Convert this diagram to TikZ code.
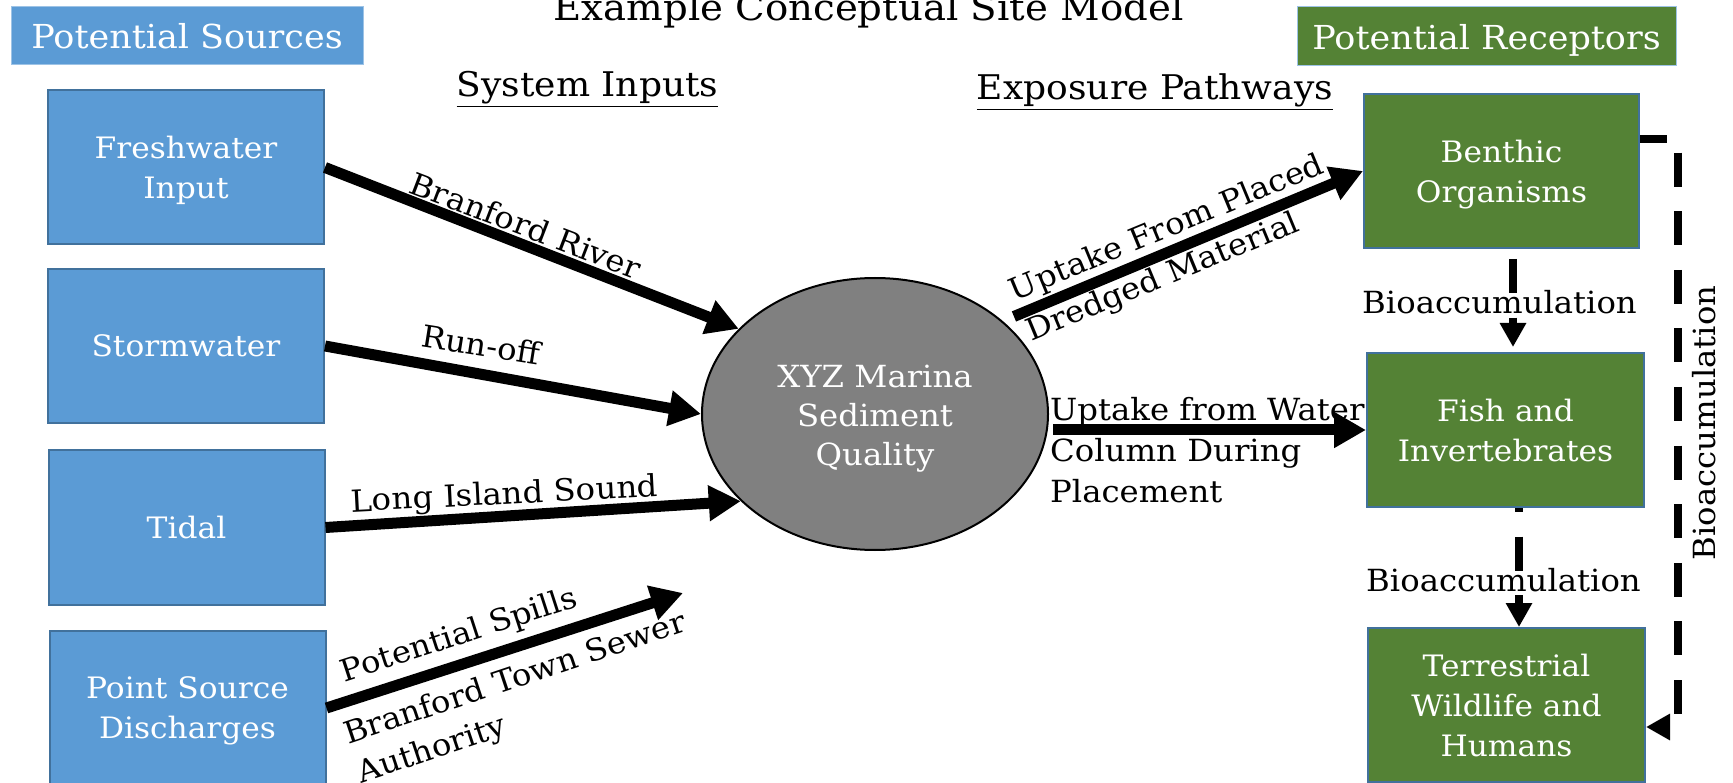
\documentclass[tikz,border=0pt]{standalone}
\usepackage{fontspec}
\setmainfont{DejaVu Serif}[FakeStretch=1.06]
\usetikzlibrary{arrows.meta,shapes.geometric}
\definecolor{srcblue}{HTML}{5B9BD5}
\definecolor{srcedge}{HTML}{41719C}
\definecolor{recgreen}{HTML}{548235}
\definecolor{hdredge}{HTML}{9DC3E6}
\definecolor{ellgray}{HTML}{808080}
\newcommand{\mainsz}{\fontsize{29.5pt}{40pt}\selectfont}
\newcommand{\lblsz}{\fontsize{30.5pt}{41pt}\selectfont}
\newcommand{\ellsz}{\fontsize{30.5pt}{39pt}\selectfont}
\newcommand{\hdrsz}{\fontsize{33pt}{40pt}\selectfont}
\newcommand{\headsz}{\fontsize{34pt}{40pt}\selectfont}
\newcommand{\titlesz}{\fontsize{36.5pt}{40pt}\selectfont}
\tikzset{
  srcbox/.style={rectangle, draw=srcedge, line width=2pt, fill=srcblue, minimum width=276pt, minimum height=154pt, inner sep=0pt, text=white, align=center, text depth=0pt, font=\mainsz},
  recbox/.style={srcbox, fill=recgreen},
  hdrbox/.style={rectangle, draw=hdredge, line width=1pt, inner sep=0pt, text=white, text depth=0pt, font=\hdrsz},
  sitebox/.style={ellipse, draw=black, line width=2pt, fill=ellgray, minimum width=346pt, minimum height=272pt, inner sep=0pt, text=white, align=center, font=\ellsz},
  lbl/.style={inner sep=0pt, text=black, font=\lblsz},
  headlbl/.style={inner sep=0pt, text=black, font=\headsz},
  bigarrow/.style={line width=11pt, -{Triangle[length=32pt,width=34pt]}},
  dasharrow/.style={line width=8pt, dash pattern=on 34pt off 24.6pt, -{Triangle[length=24pt,width=25pt]}}
}
\begin{document}
\begin{tikzpicture}[x=1pt,y=-1pt]
\useasboundingbox (0,0) rectangle (1733,783);
% headers
\node[hdrbox, fill=srcblue, minimum width=352pt, minimum height=58pt] (hsrc) at (187,36) {Potential Sources};
\node[hdrbox, fill=recgreen, minimum width=379pt, minimum height=59pt] (hrec) at (1486.5,36.5) {Potential Receptors};
\node[inner sep=0pt, font=\titlesz, anchor=base] (title) at (868.5,21) {Example Conceptual Site Model};
\node[headlbl, anchor=base] (sysin) at (587.5,97) {\underline{System Inputs}};
\node[headlbl, anchor=base] (expo) at (1155,100) {\underline{Exposure Pathways}};
% sources
\node[srcbox] (fresh) at (186,167.5) {Freshwater\\Input};
\node[srcbox] (storm) at (186,346) {Stormwater};
\node[srcbox] (tidal) at (186.5,527.5) {Tidal};
\node[srcbox] (point) at (187.5,708) {Point Source\\Discharges};
% site
\node[sitebox] (xyz) at (875,414) {\rule{0pt}{32pt}XYZ Marina\\Sediment\\Quality};
% receptors
\node[recbox, minimum width=275pt] (benthic) at (1501.5,171) {Benthic\\Organisms};
\node[recbox, minimum width=277pt] (fish) at (1505.5,430) {Fish and\\Invertebrates};
\node[recbox, minimum width=277pt] (terr) at (1506.5,705) {Terrestrial\\Wildlife and\\Humans};
% input arrows
\draw[bigarrow] (fresh.east) -- (xyz.148.7);
\draw[bigarrow] (storm.east) -- (xyz.west);
\draw[bigarrow] (tidal.east) -- (xyz.213.5);
\coordinate (spillend) at (683,593);
\draw[bigarrow] (point.east) -- (spillend);
% exposure arrows
\draw[bigarrow, shorten <=12pt] (xyz.36.4) -- (benthic.west);
\draw[bigarrow, shorten <=4pt] (xyz.east |- fish.west) -- (fish.west);
% bioaccumulation
\draw[dasharrow, dash phase=48.6pt, shorten >=5pt] ([xshift=11.5pt]benthic.south) -- ([xshift=7.5pt]fish.north);
\draw[dasharrow, dash phase=30pt] ([xshift=13.5pt]fish.south) -- ([xshift=12.5pt]terr.north);
\draw[dasharrow, line width=7.5pt, dash phase=7pt] ([yshift=32pt]benthic.east) -- ++(38,0) |- ([yshift=-22pt]terr.east);
% labels
\node[lbl, rotate=-21, anchor=base] (lriver) at (522,236) {Branford River};
\node[lbl, rotate=-9, anchor=base] (lrun) at (479,356) {Run-off};
\node[lbl, rotate=3, anchor=base] (llis) at (505,504) {Long Island Sound};
\node[lbl, rotate=18, anchor=base] (lspill) at (462,644) {Potential Spills};
\node[lbl, rotate=18.5, anchor=west, align=left] (lsewer) at (352,756) {Branford Town Sewer\\Authority};
\node[lbl, rotate=22.5, anchor=west, align=left, font=\fontsize{30.5pt}{44pt}\selectfont] (lplaced) at (1020,314) {Uptake From Placed\\Dredged Material};
\node[lbl, anchor=west, align=left] (lwater) at (1050,450) {Uptake from Water\\Column During\\Placement};
\node[lbl, anchor=base] (bio1) at (1499.5,314) {Bioaccumulation};
\node[lbl, anchor=base] (bio2) at (1503.5,591) {Bioaccumulation};
\node[lbl, rotate=90] (bio3) at (1704,423) {Bioaccumulation};
\end{tikzpicture}
\end{document}
